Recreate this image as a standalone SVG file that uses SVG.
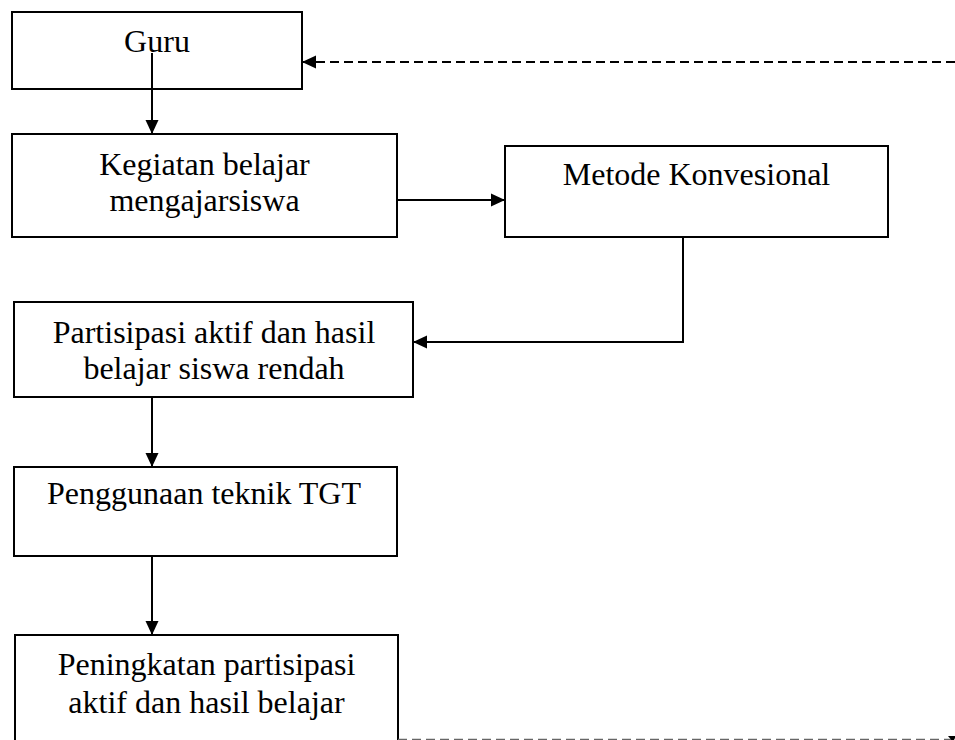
<svg xmlns="http://www.w3.org/2000/svg" width="955" height="740" viewBox="0 0 955 740">
  <style>
    .box { fill: #fff; stroke: #000; stroke-width: 2; }
    .lbl { font-family: "Liberation Serif", "Times New Roman", serif; font-size: 32px; fill: #000; text-anchor: middle; }
    .conn { fill: none; stroke: #000; stroke-width: 2; }
    .dash { fill: none; stroke: #000; stroke-width: 2; stroke-dasharray: 9 5; }
  </style>
  <defs>
    <marker id="arrow" markerUnits="userSpaceOnUse" markerWidth="15" markerHeight="14" refX="14" refY="7" orient="auto">
      <path d="M0,0.5 L14,7 L0,13.5 Z" fill="#000"/>
    </marker>
  </defs>
  <rect width="955" height="740" fill="#fff"/>

  <g id="guru">
    <rect class="box" x="12" y="12" width="290" height="77"/>
    <text class="lbl" x="157" y="52">Guru</text>
  </g>
  <g id="kegiatan">
    <rect class="box" x="12" y="134" width="385" height="103"/>
    <text class="lbl" x="204.5" y="175">Kegiatan belajar</text>
    <text class="lbl" x="204.5" y="211">mengajarsiswa</text>
  </g>
  <g id="metode">
    <rect class="box" x="505" y="146" width="383" height="91"/>
    <text class="lbl" x="696.5" y="185">Metode Konvesional</text>
  </g>
  <g id="partisipasi">
    <rect class="box" x="14" y="302" width="399" height="95"/>
    <text class="lbl" x="214" y="343">Partisipasi aktif dan hasil</text>
    <text class="lbl" x="214" y="379">belajar siswa rendah</text>
  </g>
  <g id="penggunaan">
    <rect class="box" x="14" y="467" width="383" height="89"/>
    <text class="lbl" x="204" y="504">Penggunaan teknik TGT</text>
  </g>
  <g id="peningkatan">
    <rect class="box" x="15" y="635" width="383" height="130"/>
    <text class="lbl" x="206.5" y="675">Peningkatan partisipasi</text>
    <text class="lbl" x="206.5" y="713">aktif dan hasil belajar</text>
  </g>

  <g id="connectors">
    <line class="conn" x1="152" y1="53" x2="152" y2="134" marker-end="url(#arrow)"/>
    <line class="conn" x1="397" y1="200" x2="505" y2="200" marker-end="url(#arrow)"/>
    <polyline class="conn" points="683,237 683,342 413,342" marker-end="url(#arrow)"/>
    <line class="conn" x1="152" y1="397" x2="152" y2="467" marker-end="url(#arrow)"/>
    <line class="conn" x1="152" y1="556" x2="152" y2="635" marker-end="url(#arrow)"/>
    <line class="dash" x1="955" y1="62" x2="302" y2="62" marker-end="url(#arrow)"/>
    <line class="dash" x1="398" y1="739.5" x2="955" y2="739.5" style="stroke:#666;stroke-width:1.5"/>
    <polygon points="948,736 956,736 953,742" fill="#000"/>
  </g>
</svg>
